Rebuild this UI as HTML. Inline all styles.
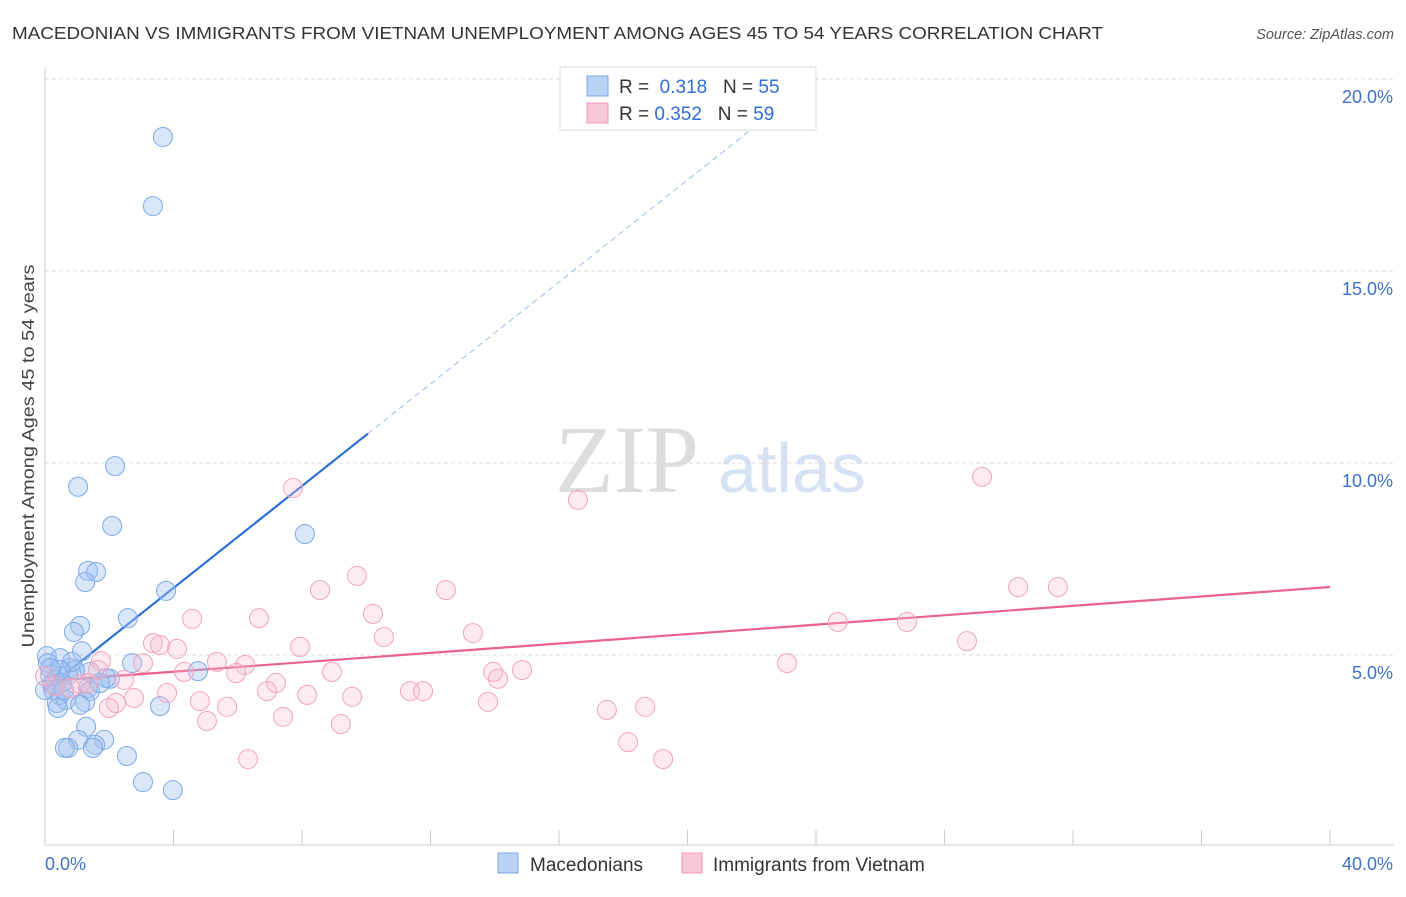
<!DOCTYPE html>
<html><head><meta charset="utf-8"><style>
body{margin:0;background:#fff;font-family:"Liberation Sans",sans-serif;}
</style></head><body>
<svg width="1406" height="892" xmlns="http://www.w3.org/2000/svg" style="font-family:'Liberation Sans',sans-serif">
<text x="12" y="39" font-size="17.5" fill="#333" textLength="1091" lengthAdjust="spacingAndGlyphs">MACEDONIAN VS IMMIGRANTS FROM VIETNAM UNEMPLOYMENT AMONG AGES 45 TO 54 YEARS CORRELATION CHART</text>
<text x="1394" y="39" font-size="14.5" fill="#555" font-style="italic" text-anchor="end">Source: ZipAtlas.com</text>
<text x="34" y="456" font-size="17.5" fill="#444" text-anchor="middle" textLength="383" lengthAdjust="spacingAndGlyphs" transform="rotate(-90 34 456)">Unemployment Among Ages 45 to 54 years</text>
<text x="555" y="492" font-size="96" fill="#ddd" font-family="Liberation Serif,serif">ZIP</text>
<text x="718" y="492" font-size="70" fill="#d5e2f3">atlas</text>
<g id="grid"></g><g id="axes"></g><g id="trend"></g><g id="pts"></g>
<g>
<rect x="560" y="67" width="256" height="63" fill="#fff" stroke="#ddd"/>
<rect x="587" y="76" width="21" height="20" fill="#b9d3f5" stroke="#7aa7e6"/>
<rect x="587" y="103" width="21" height="20" fill="#f9c8d7" stroke="#f09ab6"/>
<text x="619" y="93" font-size="19" fill="#333">R = <tspan fill="#2f6fd6">&#160;0.318</tspan>&#160;&#160;&#160;N = <tspan fill="#2f6fd6">55</tspan></text>
<text x="619" y="120" font-size="19" fill="#333">R = <tspan fill="#2f6fd6">0.352</tspan>&#160;&#160;&#160;N = <tspan fill="#2f6fd6">59</tspan></text>
</g>
<g>
<rect x="498" y="853" width="20" height="20" fill="#b9d3f5" stroke="#7aa7e6"/>
<text x="530" y="871" font-size="19" fill="#333">Macedonians</text>
<rect x="682" y="853" width="20" height="20" fill="#f9c8d7" stroke="#f09ab6"/>
<text x="713" y="871" font-size="19" fill="#333">Immigrants from Vietnam</text>
</g>
</svg>
<script>
const blueX=[3.67,3.36,2.18,1.03,2.09,8.09,1.34,1.59,1.25,3.77,2.58,1.09,0.90,1.15,0.06,0.47,2.71,4.76,1.40,0.78,0.72,0.16,0.31,0.53,2.02,1.90,1.34,1.40,0.25,0.47,0.37,0.65,1.25,0.40,3.58,1.28,1.03,1.84,1.56,1.49,0.72,0.62,2.55,3.05,3.98,0.09,0.22,0.93,1.71,0,0.59,1.09,0.84,0.47,0.16];
const blueY=[18.49,16.69,9.92,9.38,8.36,8.15,7.19,7.16,6.90,6.67,5.96,5.76,5.60,5.10,4.97,4.92,4.79,4.58,4.56,4.66,4.48,4.48,4.35,4.27,4.38,4.40,4.14,4.06,4.09,3.96,3.75,3.83,3.78,3.62,3.67,3.13,2.79,2.79,2.66,2.58,2.58,2.58,2.37,1.69,1.48,4.79,4.24,4.61,4.27,4.09,4.09,3.70,4.82,4.61,4.66];
const pinkX=[7.72,16.59,29.17,9.71,8.56,12.48,30.29,31.53,4.58,10.21,6.66,24.68,26.83,3.36,3.58,4.11,13.32,10.55,7.94,28.70,1.74,3.05,5.35,6.23,4.33,5.95,8.93,13.95,14.85,23.10,14.10,7.19,2.46,1.34,0.78,6.91,3.80,8.16,9.56,11.36,11.77,2.77,4.82,5.67,2.21,1.99,13.79,17.49,18.68,5.04,7.41,9.21,18.15,6.32,19.24,0.31,1.09,1.65,0];
const pinkY=[9.35,9.04,9.64,7.06,6.69,6.69,6.77,6.77,5.94,6.07,5.96,5.86,5.86,5.31,5.26,5.16,5.57,5.47,5.21,5.36,4.84,4.79,4.82,4.74,4.56,4.53,4.56,4.56,4.61,4.79,4.38,4.27,4.35,4.27,4.14,4.06,4.01,3.96,3.91,4.06,4.06,3.88,3.80,3.65,3.75,3.62,3.78,3.57,3.65,3.28,3.39,3.20,2.73,2.29,2.29,4.19,4.24,4.61,4.45];
const yTicks=[5,10,15,20];
const yTickLabels=["5.0%","10.0%","15.0%","20.0%"];
const xTicks=[0,4,8,12,16,20,24,28,32,36,40];
const blueTrend=[4.09,0.664];
const blueSolidEnd=10.05, blueDashEnd=24;
const pinkTrend=[4.32,0.06125];
const NS="http://www.w3.org/2000/svg";
const X=v=>45+v*32.125, Y=v=>847-v*38.4;
function mk(parent,tag,attrs){const e=document.createElementNS(NS,tag);for(const k in attrs)e.setAttribute(k,attrs[k]);document.getElementById(parent).appendChild(e);return e;}
yTicks.forEach((t,i)=>{
 const l=mk('grid','line',{x1:45,x2:1394,y1:Y(t),y2:Y(t),stroke:'#ddd','stroke-dasharray':'4,3'});
 
 
 const tx=mk('grid','text',{x:1393,y:Y(t)+24,'font-size':18,fill:'#3f72c8','text-anchor':'end'});
 tx.textContent=yTickLabels[i];
 
 
});
const ax=mk('axes','line',{x1:45,x2:1394,y1:845,y2:845,stroke:'#ccc'});


const ay=mk('axes','line',{x1:45,x2:45,y1:67,y2:845,stroke:'#ccc'});


xTicks.forEach(t=>{const l=mk('axes','line',{x1:X(t),x2:X(t),y1:830,y2:845,stroke:'#ccc'});
 
 });
let t1=mk('axes','text',{x:45,y:870,'font-size':18,fill:'#3f72c8'});t1.textContent="0.0%";


let t2=mk('axes','text',{x:1393,y:870,'font-size':18,fill:'#3f72c8','text-anchor':'end'});t2.textContent="40.0%";


function pts(xs,ys,fill,stroke,name){xs.forEach((x,i)=>{const c=mk('pts','circle',{cx:X(x),cy:Y(ys[i]),r:9.5,fill:fill,stroke:stroke,'stroke-width':1});
 
 });}
pts(blueX,blueY,'rgba(160,195,240,0.4)','#7ea9e6','macedonian-point');
pts(pinkX,pinkY,'rgba(248,188,208,0.3)','#f0a4be','vietnam-point');
const bl=mk('trend','line',{x1:X(0),y1:Y(blueTrend[0]),x2:X(blueSolidEnd),y2:Y(blueTrend[0]+blueTrend[1]*blueSolidEnd),stroke:'#2a6fd8','stroke-width':2.2});


const bd=mk('trend','line',{x1:X(blueSolidEnd),y1:Y(blueTrend[0]+blueTrend[1]*blueSolidEnd),x2:X(blueDashEnd),y2:Y(blueTrend[0]+blueTrend[1]*blueDashEnd),stroke:'#9dbbe6','stroke-width':1,'stroke-dasharray':'6,4'});


const pl=mk('trend','line',{x1:X(0),y1:Y(pinkTrend[0]),x2:X(40),y2:Y(pinkTrend[0]+pinkTrend[1]*40),stroke:'#e8618f','stroke-width':2.2});


</script>
</body></html>
